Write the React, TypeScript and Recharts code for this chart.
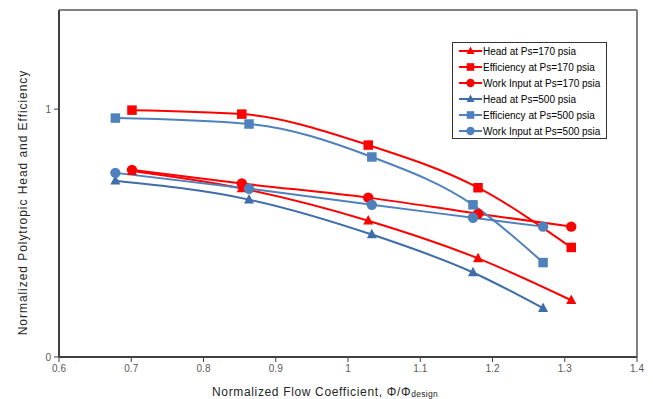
import React from 'react';
import { LineChart, Line, XAxis, YAxis, ReferenceLine, Legend } from 'recharts';

const xRed = [0.701, 0.853, 1.028, 1.18, 1.309];
const headRed = [0.75, 0.68, 0.55, 0.398, 0.229];
const effRed = [0.996, 0.98, 0.855, 0.683, 0.442];
const workRed = [0.755, 0.70, 0.643, 0.578, 0.526];

const xBlue = [0.678, 0.863, 1.033, 1.173, 1.27];
const headBlue = [0.711, 0.635, 0.494, 0.341, 0.197];
const effBlue = [0.964, 0.94, 0.807, 0.614, 0.381];
const workBlue = [0.743, 0.679, 0.614, 0.562, 0.526];

const xTicks = [0.6, 0.7, 0.8, 0.9, 1, 1.1, 1.2, 1.3, 1.4];
const yTicks = [0, 1];

const RED = '#FF0000';
const BLUE = '#4F81BD';
const BLUE_DARK = '#3E6DAA';
const FONT = '"Liberation Sans", Arial, sans-serif';

const toData = (xs: number[], ys: number[]) => xs.map((x, i) => ({ x, y: ys[i] }));

type Shape = 'triangle' | 'square' | 'circle';

const series: { name: string; data: { x: number; y: number }[]; color: string; shape: Shape }[] = [
  { name: 'Head at Ps=170 psia', data: toData(xRed, headRed), color: RED, shape: 'triangle' },
  { name: 'Efficiency at Ps=170 psia', data: toData(xRed, effRed), color: RED, shape: 'square' },
  { name: 'Work Input at Ps=170 psia', data: toData(xRed, workRed), color: RED, shape: 'circle' },
  { name: 'Head at Ps=500 psia', data: toData(xBlue, headBlue), color: BLUE_DARK, shape: 'triangle' },
  { name: 'Efficiency at Ps=500 psia', data: toData(xBlue, effBlue), color: BLUE, shape: 'square' },
  { name: 'Work Input at Ps=500 psia', data: toData(xBlue, workBlue), color: BLUE, shape: 'circle' },
];

function Marker({ cx, cy, shape, color, s = 1 }: { cx: number; cy: number; shape: Shape; color: string; s?: number }) {
  if (shape === 'triangle') {
    const h = 9.5 * s;
    const w = 10 * s;
    return (
      <polygon
        points={`${cx},${cy - h * 0.6} ${cx - w / 2},${cy + h * 0.4} ${cx + w / 2},${cy + h * 0.4}`}
        fill={color}
      />
    );
  }
  if (shape === 'square') {
    const a = 9.5 * s;
    return <rect x={cx - a / 2} y={cy - a / 2} width={a} height={a} fill={color} />;
  }
  return <circle cx={cx} cy={cy} r={5.2 * s} fill={color} />;
}

const renderLegend = () => (
  <div
    style={{
      width: 155,
      height: 97,
      boxSizing: 'border-box',
      border: '1.5px solid #333',
      background: '#fff',
      paddingLeft: 6,
      fontFamily: FONT,
      fontSize: 10,
      color: '#000',
    }}
  >
    {series.map((s) => (
      <div key={s.name} style={{ display: 'flex', alignItems: 'center', height: 16 }}>
        <svg width={23} height={12} style={{ marginRight: 1 }}>
          <line x1={0} y1={6} x2={23} y2={6} stroke={s.color} strokeWidth={2} />
          <Marker cx={11.5} cy={6} shape={s.shape} color={s.color} s={0.8} />
        </svg>
        <span style={{ whiteSpace: 'nowrap' }}>{s.name}</span>
      </div>
    ))}
  </div>
);

const XTitle = () => (
  <text x={325} y={396} textAnchor="middle" fontFamily={FONT} fontSize={12} letterSpacing={0.65} fill="#262626">
    Normalized Flow Coefficient, Φ/Φ
    <tspan fontSize={8.5} dy={1} letterSpacing={0.3}>design</tspan>
  </text>
);

export default function App() {
  return (
    <div style={{ width: 653, height: 399, background: '#fff' }}>
      <style>{'body{margin:0;background:#fff}'}</style>
      <LineChart width={653} height={399} margin={{ top: 10, right: 16, left: 0, bottom: 0 }}>
        <XAxis
          type="number"
          dataKey="x"
          domain={[0.6, 1.4]}
          ticks={xTicks}
          tickFormatter={(v: number) => String(v)}
          height={42}
          tickSize={5}
          tickMargin={3}
          axisLine={{ stroke: '#404040', strokeWidth: 2 }}
          tickLine={{ stroke: '#404040', strokeWidth: 1 }}
          tick={{ fontFamily: FONT, fontSize: 10, fill: '#595959' }}
          allowDuplicatedCategory={false}
          label={<XTitle />}
        />
        <YAxis
          type="number"
          domain={[0, 1.4]}
          ticks={yTicks}
          width={59}
          tickSize={5}
          tickMargin={3}
          axisLine={{ stroke: '#404040', strokeWidth: 2 }}
          tickLine={{ stroke: '#404040', strokeWidth: 1 }}
          tick={{ fontFamily: FONT, fontSize: 10, fill: '#595959' }}
          label={{
            value: 'Normalized Polytropic Head and Efficiency',
            angle: -90,
            position: 'center',
            dx: -6.5,
            dy: 19,
            style: { fontFamily: FONT, fontSize: 12, fill: '#262626', letterSpacing: 0.95 },
          }}
        />
        <ReferenceLine y={1.4} stroke="#808080" strokeWidth={2} ifOverflow="extendDomain" />
        <ReferenceLine x={1.4} stroke="#808080" strokeWidth={2} ifOverflow="extendDomain" />
        {series.map((s) => (
          <Line
            key={s.name}
            name={s.name}
            data={s.data}
            dataKey="y"
            type="monotone"
            stroke={s.color}
            strokeWidth={2}
            isAnimationActive={false}
            dot={(p: any) => (
              <Marker key={`${s.name}-${p.index}`} cx={p.cx} cy={p.cy} shape={s.shape} color={s.color} />
            )}
            activeDot={false}
          />
        ))}
        <Legend
          layout="vertical"
          align="center"
          verticalAlign="middle"
          content={renderLegend}
          wrapperStyle={{ left: 452, top: 42, width: 155, height: 97 }}
        />
      </LineChart>
    </div>
  );
}
